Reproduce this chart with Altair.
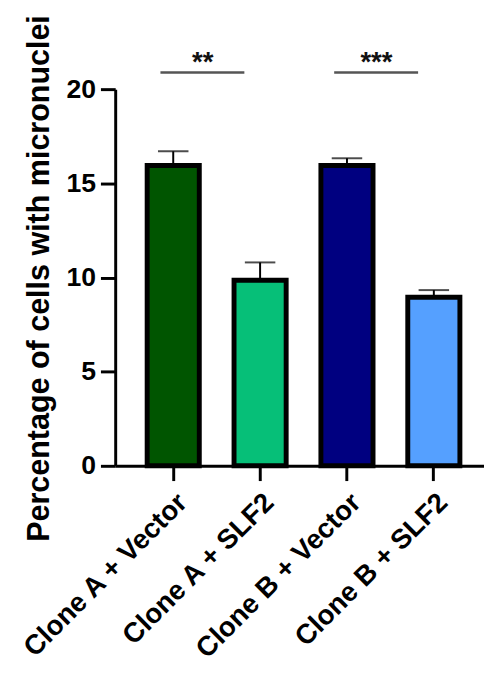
import altair as alt
import pandas as pd

groups = ["Clone A + Vector", "Clone A + SLF2", "Clone B + Vector", "Clone B + SLF2"]
means = [15.95, 9.85, 15.95, 8.95]
errors = [0.75, 0.95, 0.38, 0.38]
colors = ["#005500", "#06BF78", "#000080", "#55A0FF"]

sig_start = ["Clone A + Vector", "Clone B + Vector"]
sig_end = ["Clone A + SLF2", "Clone B + SLF2"]
sig_label = ["**", "***"]
sig_line_y = [20.88, 20.88]
sig_text_y = [20.95, 20.95]

y_ticks = [0, 5, 10, 15, 20]

df = pd.DataFrame({"group": groups, "mean": means, "err": errors})
df["upper"] = df["mean"] + df["err"]
sig = pd.DataFrame({"start": sig_start, "end": sig_end, "label": sig_label,
                    "ly": sig_line_y, "ty": sig_text_y})

FONT = "Liberation Sans"
xscale = alt.Scale(domain=groups, range=[0, 383], paddingInner=0.4, paddingOuter=0.368)
yscale = alt.Scale(domain=[0, 20], nice=False)

x_axis = alt.Axis(title=None, domainWidth=3, domainColor="black", tickColor="black",
                  tickWidth=3, tickSize=15, labelAngle=-45, labelFontSize=28,
                  labelFontWeight="bold", labelFont=FONT, labelColor="black",
                  labelPadding=8, labelLimit=500)
y_axis = alt.Axis(title="Percentage of cells with micronuclei", values=y_ticks,
                  grid=False, domainWidth=3, domainColor="black", tickColor="black",
                  tickWidth=3, tickSize=15, labelFontSize=27, labelFontWeight="bold",
                  labelFont=FONT, labelColor="black", labelPadding=5,
                  titleFont=FONT, titleFontSize=31, titleFontWeight="bold",
                  titleColor="black", titleAngle=-90, titleX=-68, titleY=192,
                  titleAlign="center", titleBaseline="alphabetic")


def X(field):
    return alt.X(field, type="nominal", scale=xscale, sort=groups, axis=x_axis)


def Y(field):
    return alt.Y(field, type="quantitative", scale=yscale, axis=y_axis)


base = alt.Chart(df)

err_rule = base.mark_rule(color="black", strokeWidth=2).encode(
    x=X("group"), y=Y("mean"), y2="upper:Q",
)
err_cap = base.mark_tick(color="black", thickness=2, size=31, orient="horizontal").encode(
    x=X("group"), y=Y("upper"),
)
bars = base.mark_bar(stroke="black", strokeWidth=5).encode(
    x=X("group"), y=Y("mean"),
    color=alt.Color("group:N", scale=alt.Scale(domain=groups, range=colors), legend=None),
)

sig_base = alt.Chart(sig)
sig_lines = sig_base.mark_rule(color="#555555", strokeWidth=2.5, xOffset=-13, x2Offset=-16).encode(
    x=X("start"), x2="end:N", y=Y("ly"),
)
sig_text = sig_base.mark_text(font=FONT, fontSize=28, fontWeight="bold", color="#111111",
                              xOffset=30, baseline="alphabetic", align="center").encode(
    x=X("start"), y=Y("ty"), text="label:N",
)

chart = alt.layer(err_rule, err_cap, bars, sig_lines, sig_text).properties(
    width=375, height=383,
    autosize=alt.AutoSizeParams(type="none"),
    padding={"left": 109, "top": 77, "right": 0, "bottom": 196},
).configure_view(stroke=None)

chart.save("out.html", embed_options={"renderer": "svg", "actions": False})
